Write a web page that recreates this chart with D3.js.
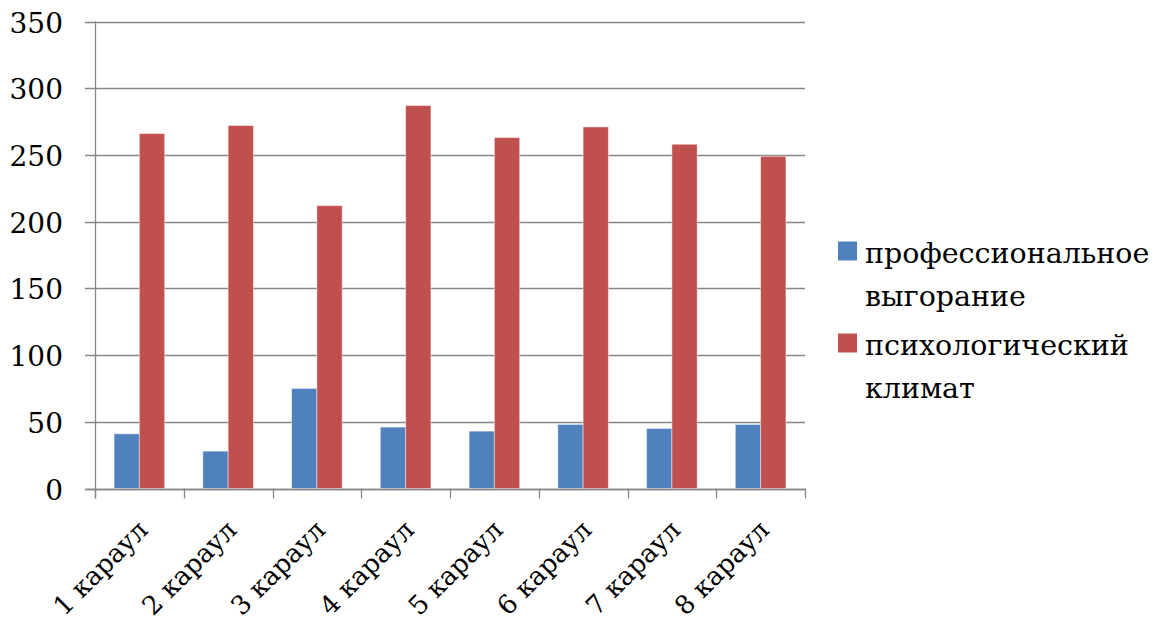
<!DOCTYPE html>
<html>
<head>
<meta charset="utf-8">
<script src="https://cdn.jsdelivr.net/npm/d3@7"></script>
<style>
  html, body { margin: 0; padding: 0; background: #fff; }
</style>
</head>
<body>
<svg id="chart" width="1172" height="627"></svg>
<script>
// Guard posts and their scores
const categories = ["1 караул", "2 караул", "3 караул", "4 караул", "5 караул", "6 караул", "7 караул", "8 караул"];
const seriesNames = ["профессиональное выгорание", "психологический климат"];
const burnout = [41, 28, 75, 46, 43, 48, 45, 48];
const climate = [266, 272, 212, 287, 263, 271, 258, 249];
const yTicks = [0, 50, 100, 150, 200, 250, 300, 350];
const legendLines = [["профессиональное", "выгорание"], ["психологический", "климат"]];
const colors = ["#4F81BD", "#C0504D"];

const FONT = "'DejaVu Serif', serif";
const svg = d3.select("#chart").attr("font-family", FONT);
const plot = { left: 95, right: 805, top: 21.5, bottom: 488.5 };
const gridColor = "#868686";

const x = d3.scaleBand().domain(categories).range([plot.left, plot.right]).paddingInner(0.43).paddingOuter(0.215);
const xs = d3.scaleBand().domain([0, 1]).range([0, x.bandwidth()]);
const y = d3.scaleLinear().domain([0, 350]).range([plot.bottom, plot.top]);

// horizontal gridlines with short ticks to the left of the axis
svg.append("g")
  .selectAll("line")
  .data(yTicks)
  .join("line")
  .attr("x1", plot.left - 10)
  .attr("x2", plot.right)
  .attr("y1", d => Math.round(y(d)) + 0.5)
  .attr("y2", d => Math.round(y(d)) + 0.5)
  .attr("stroke", gridColor)
  .attr("stroke-width", 1.3);

// y tick labels
svg.append("g")
  .selectAll("text")
  .data(yTicks)
  .join("text")
  .attr("x", 63)
  .attr("y", d => y(d) + 11)
  .attr("text-anchor", "end")
  .attr("font-family", FONT)
  .attr("font-size", 28)
  .text(d => d);

// vertical axis line
svg.append("line")
  .attr("x1", plot.left + 0.5).attr("x2", plot.left + 0.5)
  .attr("y1", plot.top).attr("y2", plot.bottom + 10)
  .attr("stroke", gridColor).attr("stroke-width", 1.3);

// category tick marks on the horizontal axis
const boundaries = d3.range(categories.length + 1).map(i => plot.left + i * (plot.right - plot.left) / categories.length);
svg.append("g")
  .selectAll("line")
  .data(boundaries)
  .join("line")
  .attr("x1", d => Math.round(d) + 0.5)
  .attr("x2", d => Math.round(d) + 0.5)
  .attr("y1", plot.bottom)
  .attr("y2", plot.bottom + 10)
  .attr("stroke", gridColor)
  .attr("stroke-width", 1.3);

// bars
const rows = categories.map((c, i) => ({ c, vals: [burnout[i], climate[i]] }));
const groups = svg.append("g")
  .selectAll("g")
  .data(rows)
  .join("g")
  .attr("transform", d => `translate(${x(d.c)},0)`);
groups.selectAll("rect")
  .data(d => d.vals.map((v, k) => ({ v, k })))
  .join("rect")
  .attr("x", d => xs(d.k))
  .attr("width", xs.bandwidth())
  .attr("y", d => y(d.v))
  .attr("height", d => y(0) - y(d.v))
  .attr("fill", d => colors[d.k])
  .attr("stroke", "rgba(255,255,255,0.45)")
  .attr("stroke-width", 1);

// redraw baseline over bars
svg.append("line")
  .attr("x1", plot.left - 10).attr("x2", plot.right)
  .attr("y1", Math.round(y(0)) + 0.5).attr("y2", Math.round(y(0)) + 0.5)
  .attr("stroke", gridColor).attr("stroke-width", 1.3);

// rotated category labels
svg.append("g")
  .selectAll("text")
  .data(categories)
  .join("text")
  .attr("transform", d => `translate(${x(d) + x.bandwidth() / 2 + 10},${plot.bottom + 43}) rotate(-45)`)
  .attr("text-anchor", "end")
  .attr("font-family", FONT)
  .attr("font-size", 26)
  .text(d => d);

// legend
const legend = svg.append("g");
const legendTop = [241.5, 333.5];
legendLines.forEach((lines, i) => {
  legend.append("rect")
    .attr("x", 838).attr("y", legendTop[i])
    .attr("width", 19).attr("height", 19)
    .attr("fill", colors[i]);
  legend.append("text")
    .attr("x", 865).attr("y", legendTop[i] + 21)
    .attr("font-family", FONT)
    .attr("font-size", 28.5)
    .selectAll("tspan")
    .data(lines)
    .join("tspan")
    .attr("x", 865)
    .attr("dy", (d, j) => j === 0 ? 0 : 43)
    .text(d => d);
});
</script>
</body>
</html>
